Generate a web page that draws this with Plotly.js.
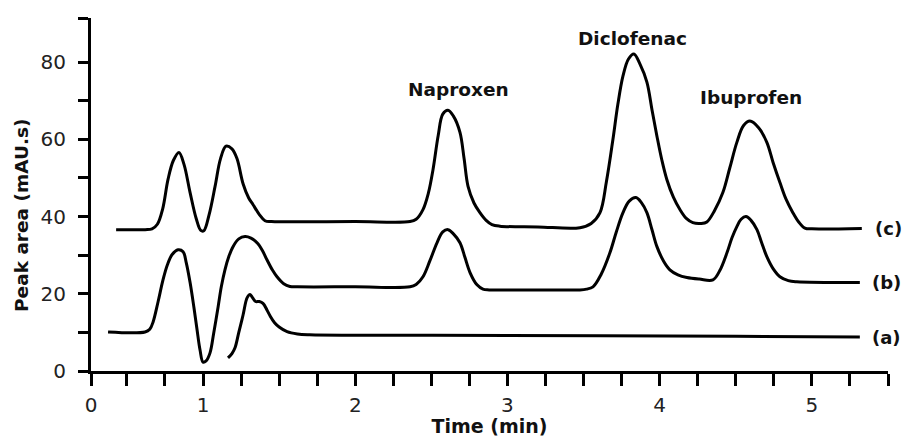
<!DOCTYPE html>
<html>
<head>
<meta charset="utf-8">
<script src="https://cdn.plot.ly/plotly-3.0.1.min.js"></script>
<style>
  html, body { margin: 0; padding: 0; background: #fff; }
  #chart { width: 906px; height: 437px; }
</style>
</head>
<body>
<div id="chart"></div>
<script>
// ---- Data ----
// Trace (a)
const timeA = [1.164, 1.19, 1.21, 1.235, 1.263, 1.29, 1.309, 1.325, 1.345, 1.37, 1.394, 1.42, 1.44, 1.47, 1.50, 1.552, 1.62, 1.70, 3.0, 4.5, 5.315];
const areaA = [3.4, 4.5, 6.0, 10.0, 14.5, 19.0, 19.8, 19.0, 18.0, 18.0, 17.5, 15.8, 14.3, 12.5, 11.4, 10.2, 9.6, 9.4, 9.2, 9.0, 8.8];

// Trace (b)
const timeB = [0.376, 0.619, 0.65, 0.672, 0.705, 0.737, 0.766, 0.796, 0.836, 0.869, 0.89, 0.915, 0.94, 0.961, 0.98, 1.0, 1.02, 1.046, 1.07, 1.099, 1.12, 1.144, 1.17, 1.197, 1.235, 1.276, 1.315, 1.355, 1.39, 1.42, 1.455, 1.486, 1.53, 1.571, 1.62, 2.0, 2.36, 2.40, 2.445, 2.49, 2.537, 2.575, 2.609, 2.645, 2.688, 2.72, 2.754, 2.80, 2.839, 2.88, 3.2, 3.476, 3.52, 3.562, 3.615, 3.673, 3.715, 3.759, 3.80, 3.844, 3.88, 3.916, 3.95, 3.982, 4.025, 4.067, 4.12, 4.179, 4.26, 4.35, 4.395, 4.442, 4.475, 4.507, 4.535, 4.567, 4.60, 4.639, 4.67, 4.704, 4.745, 4.79, 4.845, 4.901, 5.315];
const areaB = [10.1, 10.1, 10.8, 12.7, 18.0, 23.6, 27.5, 30.1, 31.4, 30.9, 28.0, 22.9, 16.5, 10.6, 5.5, 2.3, 2.6, 4.7, 9.8, 16.6, 21.8, 26.2, 29.7, 32.2, 34.2, 34.8, 34.4, 33.2, 31.2, 28.8, 26.2, 24.4, 22.6, 21.9, 21.8, 21.8, 21.8, 22.4, 24.4, 28.5, 33.2, 36.0, 36.6, 35.5, 33.2, 29.5, 25.5, 22.3, 21.2, 21.0, 21.0, 21.0, 21.2, 21.8, 25.0, 30.6, 36.0, 41.0, 44.0, 44.9, 43.6, 41.0, 36.5, 32.2, 28.5, 26.2, 24.9, 24.2, 23.8, 23.6, 26.0, 30.6, 34.5, 37.4, 39.3, 40.0, 39.0, 36.6, 33.2, 29.6, 26.5, 24.4, 23.4, 23.1, 22.9];

// Trace (c)
const timeC = [0.429, 0.62, 0.665, 0.70, 0.735, 0.77, 0.805, 0.842, 0.875, 0.915, 0.955, 0.985, 1.005, 1.04, 1.079, 1.115, 1.151, 1.19, 1.223, 1.263, 1.30, 1.328, 1.37, 1.407, 1.45, 2.0, 2.36, 2.40, 2.445, 2.48, 2.511, 2.545, 2.575, 2.609, 2.645, 2.688, 2.715, 2.741, 2.78, 2.819, 2.86, 2.898, 2.95, 3.2, 3.476, 3.55, 3.608, 3.65, 3.693, 3.725, 3.759, 3.795, 3.831, 3.87, 3.916, 3.95, 3.982, 4.015, 4.047, 4.09, 4.133, 4.175, 4.218, 4.27, 4.31, 4.36, 4.415, 4.46, 4.507, 4.55, 4.593, 4.65, 4.704, 4.745, 4.79, 4.83, 4.875, 4.915, 4.954, 5.0, 5.328];
const areaC = [36.6, 36.6, 36.8, 38.0, 42.0, 49.6, 54.5, 56.6, 53.5, 46.2, 39.5, 36.4, 36.3, 40.5, 47.8, 55.0, 58.2, 57.5, 55.0, 48.5, 44.8, 43.1, 40.5, 38.9, 38.7, 38.7, 38.7, 39.3, 41.8, 46.0, 52.2, 61.0, 66.5, 67.5, 66.0, 61.8, 55.0, 47.8, 43.5, 41.0, 39.0, 37.9, 37.5, 37.3, 37.1, 38.2, 41.0, 49.0, 60.0, 69.0, 76.4, 80.8, 82.1, 79.5, 74.8, 67.5, 60.8, 54.5, 49.6, 45.0, 41.8, 39.5, 38.4, 38.2, 38.6, 41.5, 46.2, 52.5, 59.2, 63.5, 64.7, 63.0, 59.2, 54.0, 48.8, 44.5, 41.0, 38.5, 37.0, 36.8, 36.9];

const traceNames = ["(a)", "(b)", "(c)"];
const peakNames = ["Naproxen", "Diclofenac", "Ibuprofen"];
const peakLabelTime = [2.681, 3.824, 4.599];
const peakLabelArea = [73.0, 86.2, 70.7];

const xTickVals = [0.264, 1, 2, 3, 4, 5];
const xTickText = ["0", "1", "2", "3", "4", "5"];
const yTickVals = [0, 20, 40, 60, 80];
const yTickText = ["0", "20", "40", "60", "80"];

const xMinor = [];
for (let v = 0.5; v <= 5.5001; v += 0.25) { if (Math.abs(v - Math.round(v)) > 1e-6) xMinor.push(v); }
xMinor.push(5.5);
const yMinor = [10, 30, 50, 70, 91.4];

const series = [[timeA, areaA], [timeB, areaB], [timeC, areaC]];

const traces = series.map((s, i) => ({
  x: s[0], y: s[1], type: "scatter", mode: "lines", name: traceNames[i],
  line: { color: "#000", width: 3, shape: "spline", smoothing: 1 },
  hoverinfo: "skip", showlegend: false
}));

const font = "DejaVu Sans, Arial, sans-serif";

const annotations = [];
peakNames.forEach((n, i) => annotations.push({
  x: peakLabelTime[i], y: peakLabelArea[i], xref: "x", yref: "y",
  text: "<b>" + n + "</b>", showarrow: false, xanchor: "center", yanchor: "middle",
  font: { family: font, size: 18.5, color: "#111" }
}));
series.forEach((s, i) => annotations.push({
  x: s[0][s[0].length - 1], y: s[1][s[1].length - 1], xref: "x", yref: "y",
  text: "<b>" + traceNames[i] + "</b>", showarrow: false, xanchor: "center", yanchor: "middle",
  xshift: 27, font: { family: font, size: 18, color: "#111" }
}));
annotations.push({
  x: -0.0866, y: 0.442, xref: "paper", yref: "paper", textangle: -90,
  text: "<b>Peak area (mAU.s)</b>", showarrow: false, xanchor: "center", yanchor: "middle",
  font: { family: font, size: 18.5, color: "#111" }
});

const layout = {
  width: 906, height: 437,
  margin: { l: 91, r: 18, t: 18, b: 66 },
  paper_bgcolor: "#fff", plot_bgcolor: "#fff",
  font: { family: font, color: "#222" },
  showlegend: false,
  xaxis: {
    range: [0.264, 5.5], showgrid: false, zeroline: false,
    showline: true, linecolor: "#000", linewidth: 3,
    ticks: "outside", ticklen: 12, tickwidth: 3, tickcolor: "#000",
    tickmode: "array", tickvals: xTickVals, ticktext: xTickText,
    tickfont: { family: font, size: 20, color: "#222" },
    ticklabelstandoff: 2,
    minor: { tickmode: "array", tickvals: xMinor, ticks: "outside", ticklen: 12, tickwidth: 3, tickcolor: "#000", showgrid: false },
    title: { text: "<b>Time (min)</b>", font: { family: font, size: 19, color: "#111" }, standoff: 0 },
    automargin: false, fixedrange: true
  },
  yaxis: {
    range: [0, 91.4], showgrid: false, zeroline: false,
    showline: true, linecolor: "#000", linewidth: 3,
    ticks: "outside", ticklen: 10, tickwidth: 3, tickcolor: "#000",
    tickmode: "array", tickvals: yTickVals, ticktext: yTickText,
    tickfont: { family: font, size: 20, color: "#222" },
    ticklabelstandoff: 8,
    minor: { tickmode: "array", tickvals: yMinor, ticks: "outside", ticklen: 10, tickwidth: 3, tickcolor: "#000", showgrid: false },
    automargin: false, fixedrange: true
  },
  annotations: annotations
};

Plotly.newPlot("chart", traces, layout, { staticPlot: true, displayModeBar: false });
</script>
</body>
</html>
